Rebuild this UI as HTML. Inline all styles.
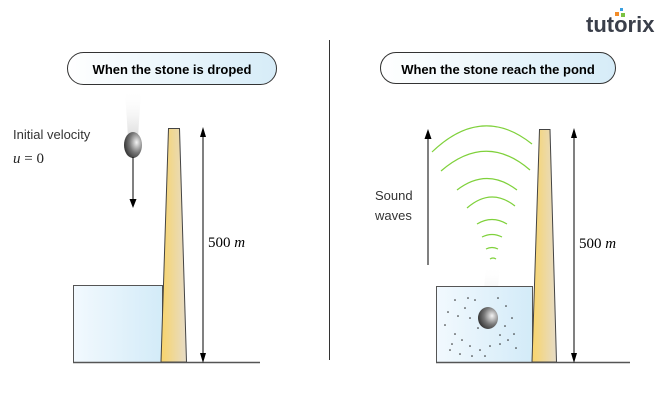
<!DOCTYPE html>
<html><head><meta charset="utf-8"><style>
body{margin:0;background:#fff;}
svg{display:block;font-family:"Liberation Sans",sans-serif;}
</style></head><body>
<svg width="659" height="403" viewBox="0 0 659 403" xmlns="http://www.w3.org/2000/svg">
<defs>
<linearGradient id="pill" x1="0" x2="1"><stop offset="0" stop-color="#fff"/><stop offset="1" stop-color="#d6ecf8"/></linearGradient>
<linearGradient id="pond" x1="0" x2="1"><stop offset="0" stop-color="#f2f9fe"/><stop offset="1" stop-color="#d3ebf8"/></linearGradient>
<linearGradient id="tower" x1="0" x2="1"><stop offset="0" stop-color="#f8d46a"/><stop offset="1" stop-color="#e6dcc8"/></linearGradient>
<radialGradient id="stone" cx="0.7" cy="0.4" r="0.8"><stop offset="0" stop-color="#f4f4f4"/><stop offset="0.5" stop-color="#777"/><stop offset="1" stop-color="#222"/></radialGradient>
<linearGradient id="trail" x1="0" y1="0" x2="0" y2="1"><stop offset="0" stop-color="#fff" stop-opacity="0"/><stop offset="1" stop-color="#ccc"/></linearGradient>
<marker id="ah" markerWidth="8" markerHeight="8" refX="4" refY="7" orient="auto-start-reverse" markerUnits="userSpaceOnUse"><path d="M0,0 L4,8 L8,0 Z" transform="rotate(0)" fill="#000"/></marker>
</defs>

<!-- logo -->
<text x="586" y="32" font-size="22" font-weight="bold" fill="#3a3f4a">tutori<tspan fill="#3a3f4a">x</tspan></text>
<rect x="615" y="12" width="4" height="4" fill="#f28c28"/><rect x="620" y="8" width="3" height="3" fill="#3aa0e0"/><rect x="621" y="13" width="4" height="4" fill="#7cc242"/>

<!-- divider -->
<line x1="329.5" y1="40" x2="329.5" y2="360" stroke="#333" stroke-width="1"/>

<!-- LEFT -->
<rect x="67.5" y="52.5" width="209" height="32" rx="16" fill="url(#pill)" stroke="#333"/>
<text x="172" y="74" font-size="13" font-weight="bold" text-anchor="middle" fill="#000">When the stone is droped</text>
<polygon points="125,90 141,90 138,138 128,138" fill="url(#trail)" opacity="0.7"/>
<ellipse cx="133" cy="145" rx="9" ry="13" fill="url(#stone)"/>
<text x="13" y="139" font-size="13" fill="#333">Initial velocity</text>
<text x="13" y="163" font-size="15" font-family="Liberation Serif,serif" fill="#222"><tspan font-style="italic">u</tspan> = 0</text>
<line x1="133" y1="157" x2="133" y2="200" stroke="#000"/>
<path d="M129.5,199 L136.5,199 L133,208 Z" fill="#000"/>
<rect x="73.5" y="285.5" width="89" height="77" fill="url(#pond)" stroke="#555"/>
<polygon points="168.5,128.5 179.5,128.5 186.5,362 161,362" fill="url(#tower)" stroke="#444"/>
<line x1="73" y1="362.5" x2="260" y2="362.5" stroke="#555" stroke-width="1.5"/>
<line x1="203" y1="134" x2="203" y2="356" stroke="#000"/>
<path d="M200,137 L206,137 L203,127 Z M200,353 L206,353 L203,363 Z" fill="#000"/>
<text x="208" y="247" font-size="15" font-family="Liberation Serif,serif" fill="#000">500 <tspan font-style="italic">m</tspan></text>

<!-- RIGHT -->
<rect x="380.5" y="52.5" width="235" height="31" rx="15.5" fill="url(#pill)" stroke="#333"/>
<text x="498" y="74" font-size="13" font-weight="bold" text-anchor="middle" fill="#000">When the stone reach the pond</text>
<line x1="428" y1="136" x2="428" y2="265" stroke="#000"/>
<path d="M424.5,139 L431.5,139 L428,129 Z" fill="#000"/>
<text x="375" y="200" font-size="13" fill="#333">Sound</text>
<text x="375" y="220" font-size="13" fill="#333">waves</text>
<g fill="none" stroke="#7fd13b" stroke-width="1.2">
<path d="M432,152 Q482,104 532,144"/>
<path d="M441,171 Q486,132 530,170"/>
<path d="M457,190 Q487,167 517,190"/>
<path d="M467,208 Q491,187 515,206"/>
<path d="M477,224 Q492,215 507,224"/>
<path d="M482,237 Q492,232 502,237"/>
<path d="M486,249 Q492,246 498,249"/>
<path d="M490,259 Q493,257 496,259"/>
</g>
<polygon points="486,265 500,265 496,312 482,312" fill="url(#trail)" opacity="0.6"/>
<rect x="436.5" y="286.5" width="96" height="76" fill="url(#pond)" stroke="#555"/>
<g fill="#222">
<circle cx="455" cy="300" r="0.8"/><circle cx="468" cy="298" r="0.8"/><circle cx="465" cy="308" r="0.8"/><circle cx="448" cy="312" r="0.8"/><circle cx="458" cy="316" r="0.8"/><circle cx="470" cy="318" r="0.8"/><circle cx="506" cy="306" r="0.8"/><circle cx="512" cy="318" r="0.8"/><circle cx="505" cy="326" r="0.8"/><circle cx="514" cy="334" r="0.8"/><circle cx="455" cy="334" r="0.8"/><circle cx="462" cy="340" r="0.8"/><circle cx="470" cy="346" r="0.8"/><circle cx="480" cy="350" r="0.8"/><circle cx="490" cy="346" r="0.8"/><circle cx="500" cy="344" r="0.8"/><circle cx="508" cy="340" r="0.8"/><circle cx="450" cy="350" r="0.8"/><circle cx="460" cy="354" r="0.8"/><circle cx="472" cy="356" r="0.8"/><circle cx="485" cy="356" r="0.8"/><circle cx="475" cy="300" r="0.8"/><circle cx="478" cy="328" r="0.8"/><circle cx="500" cy="335" r="0.8"/><circle cx="445" cy="325" r="0.8"/><circle cx="498" cy="298" r="0.8"/><circle cx="516" cy="348" r="0.8"/><circle cx="452" cy="344" r="0.8"/>
</g>
<ellipse cx="488" cy="318" rx="10" ry="11" fill="url(#stone)"/>
<polygon points="539.5,129.5 550,129.5 556.5,362 532,362" fill="url(#tower)" stroke="#444"/>
<line x1="436" y1="362.5" x2="630" y2="362.5" stroke="#555" stroke-width="1.5"/>
<line x1="574" y1="134" x2="574" y2="356" stroke="#000"/>
<path d="M571,138 L577,138 L574,128 Z M571,353 L577,353 L574,363 Z" fill="#000"/>
<text x="579" y="248" font-size="15" font-family="Liberation Serif,serif" fill="#000">500 <tspan font-style="italic">m</tspan></text>
</svg>
</body></html>
